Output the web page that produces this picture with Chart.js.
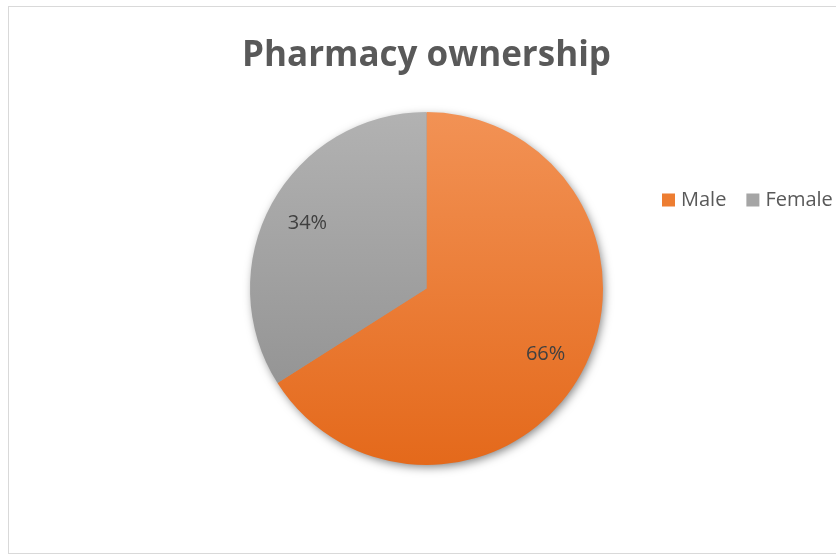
<!DOCTYPE html>
<html>
<head>
<meta charset="utf-8">
<script src="https://cdn.jsdelivr.net/npm/chart.js@4/dist/chart.umd.min.js"></script>
<style>
  html, body { margin: 0; padding: 0; background: #fff; }
  .wrap { position: relative; width: 836px; height: 556px; overflow: hidden; }
  .frame {
    position: absolute; left: 8px; top: 6px; width: 860px; height: 546px;
    border: 1px solid #d9d9d9; pointer-events: none;
  }
</style>
</head>
<body>
<div class="wrap">
  <canvas id="ownershipChart" width="836" height="556"></canvas>
  <div class="frame"></div>
</div>
<script>
const categories = ['Male', 'Female']
const shares = [66, 34]
const legendColors = ['#ED7D31', '#A5A5A5']
// top / bottom stops of each slice's vertical gradient
const gradientStops = [
  ['#F29255', '#E4691B'],
  ['#B2B2B2', '#8C8C8C'],
]

function sliceFill(context) {
  const { chart, dataIndex } = context
  const area = chart.chartArea
  if (!area) return legendColors[dataIndex]
  const g = chart.ctx.createLinearGradient(0, area.top, 0, area.bottom)
  g.addColorStop(0, gradientStops[dataIndex][0])
  g.addColorStop(1, gradientStops[dataIndex][1])
  return g
}

/* soft drop shadow under the whole pie */
const pieShadow = {
  id: 'pieShadow',
  beforeDatasetsDraw(chart) {
    const arc = chart.getDatasetMeta(0).data[0]
    if (!arc) return
    const { x, y, outerRadius } = arc.getProps(['x', 'y', 'outerRadius'], true)
    const ctx = chart.ctx
    ctx.save()
    ctx.shadowColor = 'rgba(0,0,0,0.5)'
    ctx.shadowBlur = 10
    ctx.shadowOffsetX = 2
    ctx.shadowOffsetY = 3
    ctx.fillStyle = '#999'
    ctx.beginPath()
    ctx.arc(x, y, outerRadius - 1, 0, Math.PI * 2)
    ctx.fill()
    ctx.restore()
  }
}

/* percent labels inside the slices */
const sliceLabels = {
  id: 'sliceLabels',
  afterDatasetsDraw(chart) {
    const ctx = chart.ctx
    ctx.save()
    ctx.font = '20px "Open Sans"'
    ctx.fillStyle = '#404040'
    ctx.textAlign = 'center'
    ctx.textBaseline = 'middle'
    chart.getDatasetMeta(0).data.forEach((arc, i) => {
      const { x, y, startAngle, endAngle, outerRadius } =
        arc.getProps(['x', 'y', 'startAngle', 'endAngle', 'outerRadius'], true)
      const mid = (startAngle + endAngle) / 2
      const r = outerRadius * 0.77
      ctx.fillText(shares[i] + '%', x + Math.cos(mid) * r, y + Math.sin(mid) * r)
    })
    ctx.restore()
  }
}

/* one-row legend to the right of the pie */
const sideLegend = {
  id: 'sideLegend',
  afterDraw(chart) {
    const ctx = chart.ctx
    const box = 13
    const cy = 200
    let x = 662
    ctx.save()
    ctx.font = '20px "Open Sans"'
    ctx.textBaseline = 'middle'
    chart.data.labels.forEach((label, i) => {
      ctx.fillStyle = legendColors[i]
      ctx.fillRect(x, cy - box / 2, box, box)
      ctx.fillStyle = '#595959'
      ctx.fillText(label, x + box + 6, cy)
      x += box + 6 + ctx.measureText(label).width + 20
    })
    ctx.restore()
  }
}

new Chart(document.getElementById('ownershipChart'), {
  type: 'pie',
  data: {
    labels: categories,
    datasets: [{
      data: shares,
      backgroundColor: sliceFill,
      borderWidth: 0,
    }]
  },
  options: {
    responsive: false,
    animation: false,
    layout: { padding: { left: 17, right: 0, top: 0, bottom: 91 } },
    plugins: {
      legend: { display: false },
      tooltip: { enabled: false },
      title: {
        display: true,
        text: 'Pharmacy ownership',
        color: '#595959',
        font: { family: 'Open Sans', size: 35, weight: 'bold', lineHeight: 1.2 },
        padding: { top: 35, bottom: 35 }
      }
    }
  },
  plugins: [pieShadow, sliceLabels, sideLegend]
})
</script>
</body>
</html>
